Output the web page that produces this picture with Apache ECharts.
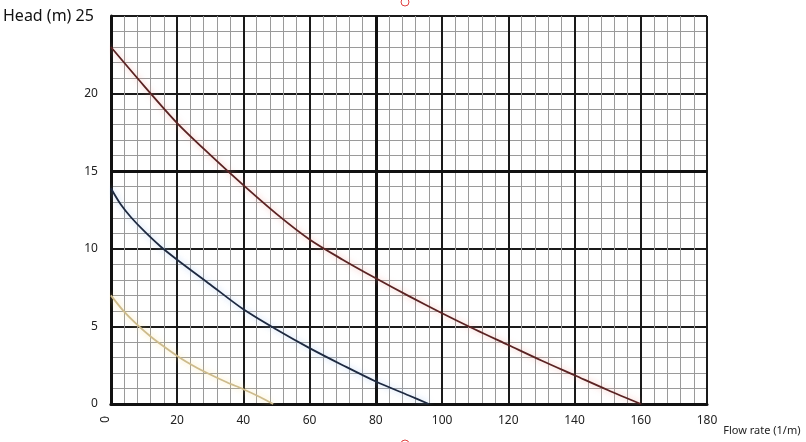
<!DOCTYPE html>
<html>
<head>
<meta charset="utf-8">
<script src="https://cdn.jsdelivr.net/npm/echarts@6/dist/echarts.min.js"></script>
<style>
html,body{margin:0;padding:0;background:#fff;}
#chart{width:806px;height:442px;}
</style>
</head>
<body>
<div id="chart"></div>
<script>
// Pump curves: [flow rate (1/m), head (m)]
const curveHigh = [[0,23.0],[10,20.5],[20,18.1],[30,16.05],[40,14.1],[50,12.25],[60,10.6],[70,9.3],[80,8.1],[90,6.95],[100,5.85],[110,4.8],[120,3.8],[130,2.8],[140,1.85],[150,0.9],[160,0]];
const curveMid = [[0,13.9],[3,12.85],[6,12.05],[10,11.15],[15,10.15],[20,9.3],[30,7.7],[40,6.1],[50,4.8],[60,3.6],[70,2.5],[80,1.45],[90,0.55],[96,0]];
const curveLow = [[0,7.0],[4,5.95],[8,5.1],[12,4.35],[16,3.7],[20,3.1],[25,2.45],[30,1.9],[35,1.4],[40,0.95],[45,0.45],[49,0]];
const xTicks = [0,20,40,60,80,100,120,140,160,180];
const yTicks = [0,5,10,15,20,25];
const xName = 'Flow rate (1/m)';
const yName = 'Head (m)';
const emphLines = [{xAxis: 80}, {yAxis: 15}];

const FONT = 'Noto Sans';
const chart = echarts.init(document.getElementById('chart'));
chart.setOption({
  backgroundColor: '#fff',
  animation: false,
  grid: {left: 109, right: 99, top: 16, bottom: 38},
  xAxis: {
    type: 'value', min: xTicks[0], max: xTicks[xTicks.length-1], interval: 20,
    name: xName, nameLocation: 'end', nameGap: 16,
    nameTextStyle: {fontFamily: FONT, fontSize: 11, color: '#222', verticalAlign: 'top', padding: [21,0,0,0]},
    axisLine: {show: true, lineStyle: {color: '#111', width: 3}},
    axisTick: {show: false},
    axisLabel: {
      margin: 11, fontFamily: FONT, fontSize: 12, color: '#222',
      formatter: v => (v === 0 ? '' : String(v))
    },
    splitLine: {show: true, lineStyle: {color: '#1a1a1a', width: 2}},
    minorTick: {show: false, splitNumber: 5},
    minorSplitLine: {show: true, lineStyle: {color: '#9a9a9a', width: 1}}
  },
  yAxis: {
    type: 'value', min: yTicks[0], max: yTicks[yTicks.length-1], interval: 5,
    axisLine: {show: true, lineStyle: {color: '#111', width: 3}},
    axisTick: {show: false},
    axisLabel: {
      margin: 13, fontFamily: FONT, fontSize: 12, color: '#222',
      formatter: v => (v === 25 ? '{t|' + yName + ' ' + v + '}' : String(v)),
      rich: {t: {fontFamily: FONT, fontSize: 16, color: '#111', padding: [0,4,0,0]}}
    },
    splitLine: {show: true, lineStyle: {color: '#1a1a1a', width: 2}},
    minorTick: {show: false, splitNumber: 5},
    minorSplitLine: {show: true, lineStyle: {color: '#9a9a9a', width: 1}}
  },
  series: [
    {
      type: 'line', data: curveHigh, smooth: 0.3, showSymbol: false, z: 5,
      lineStyle: {color: '#5a2222', width: 1.8, shadowColor: 'rgba(240,150,140,0.7)', shadowBlur: 6},
      markLine: {silent: true, symbol: 'none', label: {show: false},
        lineStyle: {color: '#111', width: 3, type: 'solid'}, data: emphLines}
    },
    {
      type: 'line', data: curveMid, smooth: 0.3, showSymbol: false, z: 5,
      lineStyle: {color: '#1d2940', width: 1.8, shadowColor: 'rgba(150,190,240,0.7)', shadowBlur: 6}
    },
    {
      type: 'line', data: curveLow, smooth: 0.3, showSymbol: false, z: 5,
      lineStyle: {color: '#cdbb8c', width: 1.8, shadowColor: 'rgba(250,220,130,0.7)', shadowBlur: 6}
    }
  ],
  graphic: [
    {type: 'text', x: 109, y: 416, rotation: -Math.PI/2, originX: 0, originY: 0,
      style: {text: '0', fontFamily: FONT, fontSize: 12, fill: '#222'}},
    {type: 'circle', shape: {cx: 405, cy: 2, r: 4}, style: {fill: 'none', stroke: '#e04040', lineWidth: 1}},
    {type: 'circle', shape: {cx: 405, cy: 444, r: 4}, style: {fill: 'none', stroke: '#e04040', lineWidth: 1}}
  ]
});
</script>
</body>
</html>
